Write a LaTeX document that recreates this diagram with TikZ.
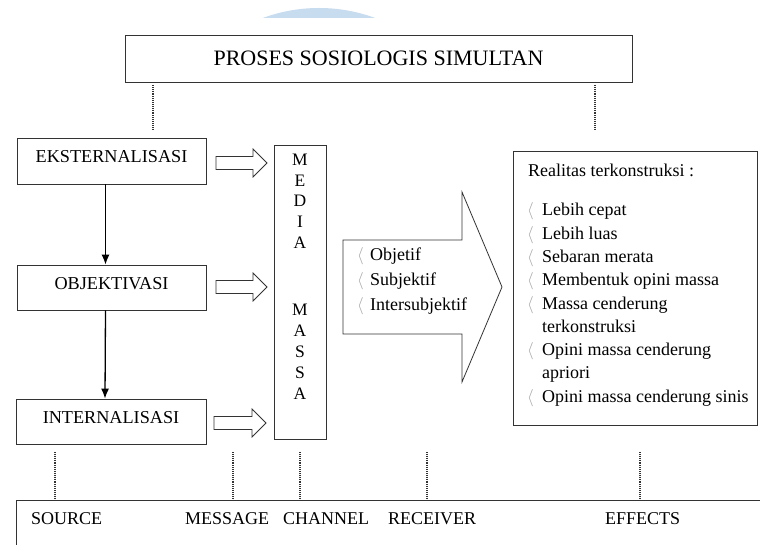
\documentclass[tikz,border=0pt]{standalone}
\usepackage{fontspec}
\setmainfont{Liberation Serif}
\usetikzlibrary{arrows.meta}
\definecolor{wm}{HTML}{C8DCEF}
\definecolor{ln}{HTML}{333333}
\begin{document}
\begin{tikzpicture}[x=1pt,y=-1pt,
  box/.style={draw=ln, line width=0.8pt, rectangle, inner sep=0pt},
  ltxt/.style={font=\fontsize{18.2}{21}\selectfont, text height=12pt, text depth=8pt},
  txt/.style={inner sep=0pt, anchor=base west, font=\fontsize{18}{21}\selectfont},
  brk/.style={inner sep=0pt, anchor=base west, text=gray!70, font=\fontsize{16}{20}\selectfont},
  dots/.style={draw=ln, line width=1.4pt, dash pattern=on 1pt off 0.9pt},
  hollow/.style={draw=ln, line width=0.8pt, fill=white, line join=miter},
  flow/.style={draw=black, line width=1.3pt, -{Latex[length=10pt,width=8pt]}}]
\useasboundingbox (0,0) rectangle (760,545);
\fill[white] (0,0) rectangle (760,545);
% watermark cap
\begin{scope}
\clip (0,0) rectangle (760,18);
\fill[wm] (319,170) circle (162);
\end{scope}

% title
\node[box, minimum width=507, minimum height=47, font=\fontsize{22}{24}\selectfont] (title) at (378.5,58.5) {PROSES SOSIOLOGIS SIMULTAN};

% left boxes
\node[box, ltxt, minimum width=189, minimum height=46] (eks) at (111.5,161) {EKSTERNALISASI};
\node[box, ltxt, minimum width=189, minimum height=45] (obj) at (111.5,287.5) {OBJEKTIVASI};
\node[box, ltxt, minimum width=190, minimum height=45] (int) at (111,421.5) {INTERNALISASI};

\draw[flow] ([xshift=-6pt]eks.south) -- ([xshift=-6pt]obj.north);
\draw[flow] ([xshift=-6pt]obj.south) -- ([xshift=-6pt]int.north);

% hollow arrows
\foreach \a/\b/\c in {216/267/163, 216/267/287, 214/266/423}
  \draw[hollow] (\a,\c-6.5) -- (\b-14,\c-6.5) -- (\b-14,\c-14) -- (\b,\c) -- (\b-14,\c+14) -- (\b-14,\c+6.5) -- (\a,\c+6.5) -- cycle;

% media massa
\node[box, minimum width=52, minimum height=294] (media) at (300,292) {};
\foreach \l/\y [count=\i] in {M/160,E/181,D/201,I/222,A/243,M/309,A/330,S/351,S/372,A/393}
  \node[inner sep=0pt, anchor=base, font=\fontsize{17.5}{20}\selectfont] (m\i) at (300,\y+6) {\l};

% big arrow
\draw[hollow] (343,240) -- (462,240) -- (462,192) -- (502,287) -- (462,382) -- (462,334) -- (343,334) -- cycle;
\foreach \t/\y [count=\i] in {Objetif/261, Subjektif/286, Intersubjektif/310}{
  \node[brk] (ob\i) at (357,\y) {$\langle$};
  \node[txt] (o\i) at (370,\y) {\t};
}

% realitas box
\node[box, minimum width=244, minimum height=274] (real) at (635,288) {};
\node[txt] (rt) at (528,177) {Realitas terkonstruksi :};
\foreach \t/\y [count=\i] in {Lebih cepat/216, Lebih luas/239.25, Sebaran merata/262.5, Membentuk opini massa/285.75, Massa cenderung/309, Opini massa cenderung/355.5, Opini massa cenderung sinis/402}{
  \node[brk] (rb\i) at (527,\y) {$\langle$};
  \node[txt] (r\i) at (542,\y) {\t};
}
\node[txt] (r8) at (542,332.25) {terkonstruksi};
\node[txt] (r9) at (542,378.75) {apriori};

% dotted top
\coordinate (t1a) at (153,85); \coordinate (t1b) at (153,130);
\coordinate (t2a) at (595,85); \coordinate (t2b) at (595,130);
\draw[dots] (t1a) -- (t1b);
\draw[dots] (t2a) -- (t2b);

% bottom box
\node[box, anchor=north west, minimum width=760, minimum height=60] (bot) at (16,500) {};
\foreach \x [count=\i] in {55,233,300,427,640}{
  \coordinate (d\i) at (\x,452);
  \draw[dots] (d\i) -- (d\i |- bot.north);
}
\node[txt] (s1) at (31,524) {SOURCE};
\node[txt] (s2) at (185,524) {MESSAGE};
\node[txt] (s3) at (283,524) {CHANNEL};
\node[txt] (s4) at (388,524) {RECEIVER};
\node[txt] (s5) at (605,524) {EFFECTS};
\end{tikzpicture}
\end{document}
